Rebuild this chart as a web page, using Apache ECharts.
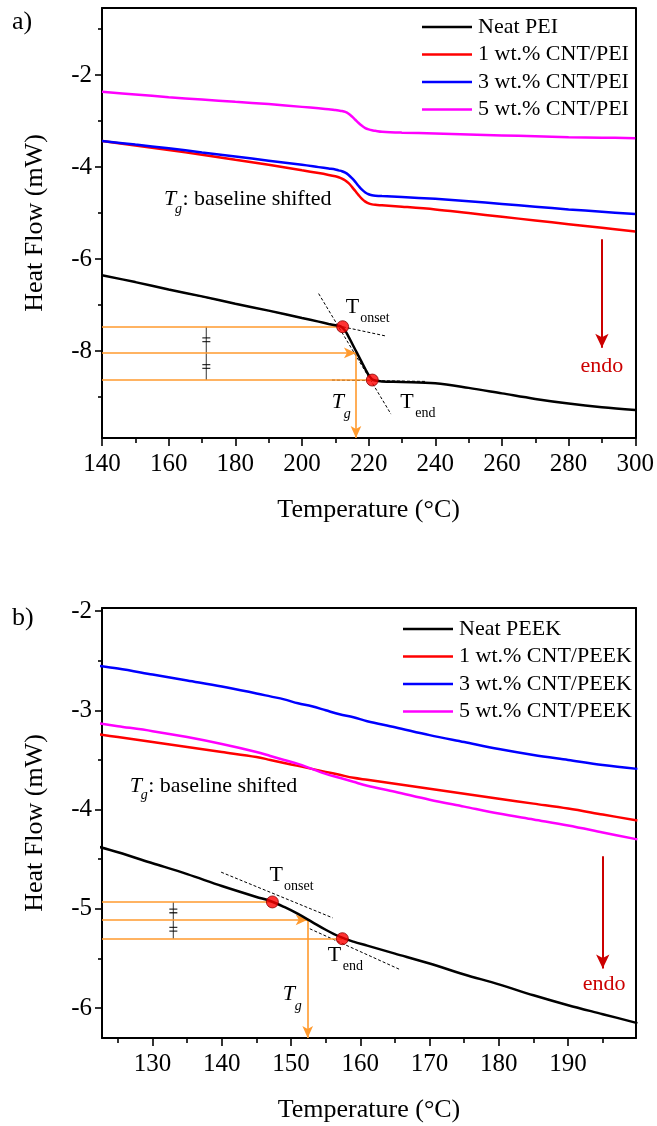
<!DOCTYPE html>
<html><head><meta charset="utf-8">
<script src="https://cdn.jsdelivr.net/npm/echarts@6/dist/echarts.min.js"></script>
<style>html,body{margin:0;padding:0;background:#fff}#c{width:657px;height:1126px}</style>
</head><body><div id="c"></div>
<script>
const FONT = '"Liberation Serif","Times New Roman",serif';
const COLORS = ['#000000', '#ff0000', '#0000ff', '#ff00ff'];
const ORANGE = '#ff9a2e';
const ENDO = '#cc0000';

// ---------- Panel a) PEI ----------
const tempA = [140,150,160,170,180,190,200,205,208,210,211,212,213,214,215,216,217,218,219,220,221,222,224,230,240,250,260,270,280,290,300];
const neatPEI = [-6.35,-6.50,-6.66,-6.81,-6.97,-7.12,-7.28,-7.36,-7.41,-7.44,-7.45,-7.48,-7.56,-7.69,-7.83,-7.97,-8.11,-8.25,-8.39,-8.52,-8.61,-8.64,-8.66,-8.67,-8.70,-8.80,-8.92,-9.04,-9.14,-9.22,-9.28];
const cnt1PEI = [-3.43,-3.53,-3.63,-3.73,-3.84,-3.95,-4.07,-4.13,-4.17,-4.20,-4.22,-4.25,-4.29,-4.35,-4.43,-4.52,-4.61,-4.69,-4.75,-4.79,-4.81,-4.82,-4.83,-4.86,-4.92,-5.00,-5.08,-5.16,-5.24,-5.32,-5.40];
const cnt3PEI = [-3.43,-3.51,-3.59,-3.68,-3.77,-3.86,-3.95,-4.00,-4.03,-4.05,-4.07,-4.09,-4.12,-4.17,-4.24,-4.32,-4.41,-4.49,-4.55,-4.59,-4.61,-4.62,-4.63,-4.65,-4.69,-4.74,-4.80,-4.86,-4.92,-4.97,-5.02];
const cnt5PEI = [-2.36,-2.42,-2.48,-2.53,-2.58,-2.63,-2.69,-2.72,-2.74,-2.76,-2.77,-2.78,-2.80,-2.84,-2.90,-2.97,-3.04,-3.10,-3.15,-3.18,-3.20,-3.21,-3.23,-3.25,-3.27,-3.29,-3.31,-3.33,-3.35,-3.36,-3.37];
const namesA = ['Neat PEI', '1 wt.% CNT/PEI', '3 wt.% CNT/PEI', '5 wt.% CNT/PEI'];
const xRangeA = [140, 300];
const yRangeA = [-9.89, -0.54];
const xMajorA = [140,160,180,200,220,240,260,280,300];
const xMinorA = [150,170,190,210,230,250,270,290];
const yMajorA = [-8,-6,-4,-2];
const yMinorA = [-9,-7,-5,-3,-1];
const onsetA = [212.2, -7.47];
const tgA = [216.2, -8.04];
const endA = [221.1, -8.63];
const tangentsA = [[[205,-6.75],[226.7,-9.37]], [[158,-6.63],[225,-7.67]], [[209,-8.63],[237.5,-8.66]]];
const bracketXA = 171.3;
const endoArrowA = [290, -5.57, -7.93];
const textPosA = {onset:[213.1,-7.04], end:[229.5,-9.11], tg:[208.9,-9.11], note:[158.6,-4.70], endo:[290,-8.33]};

// ---------- Panel b) PEEK ----------
const tempB = [122,125,130,135,140,145,147,149,151,153,155,157,159,161,165,170,175,180,185,190,195,200];
const neatPEEK = [-4.37,-4.43,-4.54,-4.65,-4.77,-4.88,-4.92,-4.98,-5.05,-5.13,-5.21,-5.28,-5.33,-5.37,-5.45,-5.55,-5.66,-5.76,-5.87,-5.97,-6.06,-6.15];
const cnt1PEEK = [-3.24,-3.27,-3.32,-3.37,-3.42,-3.47,-3.50,-3.53,-3.56,-3.59,-3.62,-3.65,-3.68,-3.70,-3.74,-3.79,-3.84,-3.89,-3.94,-3.99,-4.05,-4.11];
const cnt3PEEK = [-2.55,-2.58,-2.64,-2.70,-2.76,-2.83,-2.86,-2.89,-2.93,-2.96,-3.00,-3.04,-3.07,-3.11,-3.17,-3.25,-3.32,-3.39,-3.45,-3.50,-3.55,-3.59];
const cnt5PEEK = [-3.13,-3.16,-3.21,-3.27,-3.34,-3.42,-3.46,-3.50,-3.54,-3.59,-3.64,-3.68,-3.72,-3.76,-3.82,-3.90,-3.97,-4.04,-4.10,-4.16,-4.23,-4.30];
const namesB = ['Neat PEEK', '1 wt.% CNT/PEEK', '3 wt.% CNT/PEEK', '5 wt.% CNT/PEEK'];
const xRangeB = [122.7, 199.8];
const yRangeB = [-6.30, -1.97];
const xMajorB = [130,140,150,160,170,180,190];
const xMinorB = [125,135,145,155,165,175,185,195];
const yMajorB = [-6,-5,-4,-3,-2];
const yMinorB = [-5.5,-4.5,-3.5,-2.5];
const onsetB = [147.3, -4.93];
const tgB = [152.4, -5.11];
const endB = [157.4, -5.30];
const tangentsB = [[[139.9,-4.63],[156.0,-5.09]], [[152.7,-5.20],[165.7,-5.61]]];
const bracketXB = 133.0;
const endoArrowB = [195, -4.47, -5.60];
const textPosB = {onset:[146.9,-4.66], end:[155.3,-5.47], tg:[148.8,-5.86], note:[126.7,-3.76], endo:[195.2,-5.76]};

const zip = (xs, ys) => xs.map((x, i) => [x, ys[i]]);

const grids = [
  {left:102, top:8, width:534, height:430},
  {left:102, top:608, width:534, height:430}
];

const xAxes = [], yAxes = [], series = [];
const tickStyle = {color:'#000', width:1.6};

function buildPanel(g, P) {
  const xi = xAxes.length, yi = yAxes.length;
  xAxes.push({
    type:'value', gridIndex:g, position:'bottom', min:P.xr[0], max:P.xr[1],
    axisLine:{show:true, onZero:false, lineStyle:{color:'#000', width:2}},
    axisTick:{show:true, inside:false, length:8, lineStyle:tickStyle, customValues:P.xMajor},
    axisLabel:{show:true, customValues:P.xMajor, fontSize:25, fontFamily:FONT, color:'#000', margin:14},
    splitLine:{show:false},
    name:'Temperature (°C)', nameLocation:'middle', nameGap:59,
    nameTextStyle:{fontSize:26, fontFamily:FONT, color:'#000'}
  });
  xAxes.push({
    type:'value', gridIndex:g, position:'bottom', min:P.xr[0], max:P.xr[1],
    axisLine:{show:false, onZero:false},
    axisTick:{show:true, inside:false, length:5, lineStyle:tickStyle, customValues:P.xMinor},
    axisLabel:{show:false}, splitLine:{show:false}
  });
  xAxes.push({
    type:'value', gridIndex:g, position:'top', min:P.xr[0], max:P.xr[1],
    axisLine:{show:true, onZero:false, lineStyle:{color:'#000', width:2}},
    axisTick:{show:false}, axisLabel:{show:false}, splitLine:{show:false}
  });
  yAxes.push({
    type:'value', gridIndex:g, position:'left', min:P.yr[0], max:P.yr[1],
    axisLine:{show:true, onZero:false, lineStyle:{color:'#000', width:2}},
    axisTick:{show:true, inside:false, length:7, lineStyle:tickStyle, customValues:P.yMajor},
    axisLabel:{show:true, customValues:P.yMajor, fontSize:25, fontFamily:FONT, color:'#000', margin:10,
      formatter: v => String(v)},
    splitLine:{show:false},
    name:'Heat Flow (mW)', nameLocation:'middle', nameGap:54, nameRotate:90,
    nameTextStyle:{fontSize:26, fontFamily:FONT, color:'#000'}
  });
  yAxes.push({
    type:'value', gridIndex:g, position:'left', min:P.yr[0], max:P.yr[1],
    axisLine:{show:false, onZero:false},
    axisTick:{show:true, inside:false, length:4, lineStyle:tickStyle, customValues:P.yMinor},
    axisLabel:{show:false}, splitLine:{show:false}
  });
  yAxes.push({
    type:'value', gridIndex:g, position:'right', min:P.yr[0], max:P.yr[1],
    axisLine:{show:true, onZero:false, lineStyle:{color:'#000', width:2}},
    axisTick:{show:false}, axisLabel:{show:false}, splitLine:{show:false}
  });
  const ax = {xAxisIndex:xi, yAxisIndex:yi};
  const firstSeries = series.length;

  // tangents (dashed)
  P.tangents.forEach(t => series.push(Object.assign({
    type:'line', data:t, symbol:'none', silent:true, z:3,
    lineStyle:{color:'#000', width:1, type:[3,2]}
  }, ax)));

  // bracket
  series.push(Object.assign({
    type:'line', data:[[P.bx, P.onset[1]], [P.bx, P.end[1]]], symbol:'none', silent:true, z:3,
    lineStyle:{color:'#555', width:1.2}
  }, ax));
  series.push(Object.assign({
    type:'scatter', silent:true, z:4,
    data:[[P.bx, (P.onset[1]+P.tg[1])/2], [P.bx, (P.tg[1]+P.end[1])/2]],
    symbol:'path://M0,0H10V1.3H0ZM0,3.7H10V5H0Z', symbolSize:[8,5],
    itemStyle:{color:'#000'}
  }, ax));

  // curves
  P.curves.forEach((c, i) => {
    const s = Object.assign({
      type:'line', name:P.names[i], data:zip(P.temps, c), symbol:'none', showSymbol:false,
      smooth:0.35, z:5,
      lineStyle:{color:COLORS[i], width:2.5}, itemStyle:{color:COLORS[i]}
    }, ax);
    if (i === 0) {
      s.markLine = {
        silent:true, animation:false, symbol:['none','none'], label:{show:false},
        lineStyle:{color:ORANGE, width:1.6, type:'solid'},
        data:[
          [{coord:[P.xr[0], P.onset[1]], symbol:'none'}, {coord:P.onset, symbol:'none'}],
          [{coord:[P.xr[0], P.tg[1]], symbol:'none'}, {coord:P.tg, symbol:'arrow', symbolSize:[8,12]}],
          [{coord:[P.xr[0], P.end[1]], symbol:'none'}, {coord:P.end, symbol:'none'}],
          [{coord:P.tg, symbol:'none'}, {coord:[P.tg[0], P.yr[0]], symbol:'arrow', symbolSize:[8,12]}],
          [{coord:[P.endo[0], P.endo[1]], symbol:'none', lineStyle:{color:ENDO, width:2}},
           {coord:[P.endo[0], P.endo[2]], symbol:'arrow', symbolSize:[10,14]}]
        ]
      };
    }
    series.push(s);
  });

  // red points
  series.push(Object.assign({
    type:'scatter', silent:true, z:10, data:[P.onset, P.end], symbolSize:12,
    itemStyle:{color:'#ff0000', borderColor:'#880000', borderWidth:1}
  }, ax));
  return firstSeries;
}

const sA = buildPanel(0, {xr:xRangeA, yr:yRangeA, xMajor:xMajorA, xMinor:xMinorA, yMajor:yMajorA, yMinor:yMinorA,
  tangents:tangentsA, bx:bracketXA, onset:onsetA, tg:tgA, end:endA, endo:endoArrowA,
  temps:tempA, curves:[neatPEI, cnt1PEI, cnt3PEI, cnt5PEI], names:namesA});
const sB = buildPanel(1, {xr:xRangeB, yr:yRangeB, xMajor:xMajorB, xMinor:xMinorB, yMajor:yMajorB, yMinor:yMinorB,
  tangents:tangentsB, bx:bracketXB, onset:onsetB, tg:tgB, end:endB, endo:endoArrowB,
  temps:tempB, curves:[neatPEEK, cnt1PEEK, cnt3PEEK, cnt5PEEK], names:namesB});

const legendBase = {
  orient:'vertical', selectedMode:false, icon:'rect', itemWidth:50, itemHeight:2.5, itemGap:5.5,
  textStyle:{fontSize:22, fontFamily:FONT, color:'#000', lineHeight:22, padding:[0,0,0,1]}
};

const chart = echarts.init(document.getElementById('c'));
chart.setOption({
  animation:false,
  backgroundColor:'#fff',
  grid:grids,
  xAxis:xAxes,
  yAxis:yAxes,
  legend:[
    Object.assign({data:namesA, left:417, top:11}, legendBase),
    Object.assign({data:namesB, left:398, top:613}, legendBase)
  ],
  series:series
});

// text annotations anchored to data coordinates
function px(si, c) { return chart.convertToPixel({seriesIndex:si}, c); }
function t(x, y, text, size, opts) {
  return Object.assign({type:'text', silent:true, z:100, style:Object.assign({
    text, x, y, font:size + 'px ' + FONT, fill:'#000', textAlign:'left', textVerticalAlign:'middle',
    align:'left', verticalAlign:'middle'
  }, opts || {})});
}
const graphics = [];
function panelTexts(si, T) {
  let p = px(si, T.onset);
  graphics.push(t(p[0], p[1], 'T', 22), t(p[0] + 14.5, p[1] + 11, 'onset', 14));
  p = px(si, T.end);
  graphics.push(t(p[0], p[1], 'T', 22), t(p[0] + 15, p[1] + 11, 'end', 14));
  p = px(si, T.tg);
  graphics.push(t(p[0], p[1], 'T', 22, {font:'italic 22px ' + FONT}), t(p[0] + 12, p[1] + 12, 'g', 14, {font:'italic 14px ' + FONT}));
  p = px(si, T.note);
  graphics.push(t(p[0], p[1], 'T', 22, {font:'italic 22px ' + FONT}), t(p[0] + 11, p[1] + 10, 'g', 14, {font:'italic 14px ' + FONT}),
    t(p[0] + 18.5, p[1], ': baseline shifted', 22));
  p = px(si, T.endo);
  graphics.push(t(p[0], p[1], 'endo', 22, {fill:ENDO, textAlign:'center', align:'center'}));
}
panelTexts(sA, textPosA);
panelTexts(sB, textPosB);
graphics.push(t(12, 22, 'a)', 26), t(12, 618, 'b)', 26));
chart.setOption({graphic:graphics});
</script>
</body></html>
